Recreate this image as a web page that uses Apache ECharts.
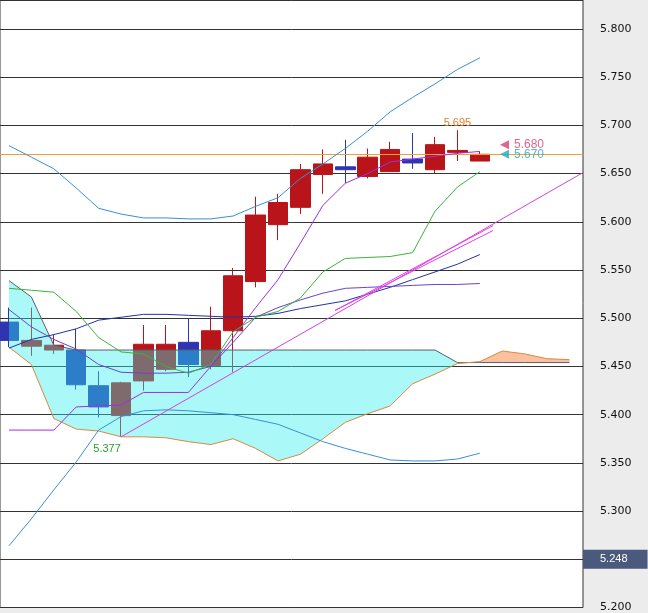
<!DOCTYPE html>
<html>
<head>
<meta charset="utf-8">
<script src="https://cdn.jsdelivr.net/npm/echarts@6/dist/echarts.min.js"></script>
<style>
  html, body { margin: 0; padding: 0; }
  #chart { width: 648px; height: 613px; }
</style>
</head>
<body>
<div id="chart"></div>
<script>
// velas (índice 0..21)
const opens  = [5.496, 5.471, 5.467, 5.467, 5.430, 5.399, 5.435, 5.447, 5.475, 5.451, 5.487, 5.538, 5.597, 5.615, 5.649, 5.657, 5.647, 5.652, 5.665, 5.654, 5.672, 5.663];
const closes = [5.477, 5.477, 5.472, 5.431, 5.408, 5.433, 5.473, 5.473, 5.452, 5.487, 5.544, 5.607, 5.620, 5.654, 5.660, 5.654, 5.667, 5.675, 5.661, 5.680, 5.674, 5.670];
const lows   = [5.470, 5.461, 5.463, 5.426, 5.397, 5.377, 5.425, 5.445, 5.439, 5.447, 5.444, 5.532, 5.581, 5.608, 5.629, 5.640, 5.645, 5.652, 5.655, 5.650, 5.663, 5.663];
const highs  = [5.511, 5.511, 5.483, 5.489, 5.445, 5.434, 5.493, 5.493, 5.500, 5.512, 5.552, 5.626, 5.629, 5.660, 5.675, 5.685, 5.676, 5.683, 5.692, 5.688, 5.695, 5.673];

// bandas de bollinger
const bbUpper  = [5.679, 5.667, 5.655, 5.635, 5.614, 5.608, 5.604, 5.604, 5.603, 5.603, 5.606, 5.616, 5.625, 5.645, 5.660, 5.676, 5.694, 5.714, 5.729, 5.743, 5.758, 5.770];
const bbMiddle = [5.469, 5.478, 5.483, 5.489, 5.498, 5.501, 5.504, 5.504, 5.503, 5.502, 5.501, 5.502, 5.505, 5.510, 5.514, 5.518, 5.525, 5.532, 5.540, 5.548, 5.556, 5.566];
const bbLower  = [5.264, 5.292, 5.322, 5.351, 5.384, 5.398, 5.404, 5.405, 5.404, 5.402, 5.400, 5.395, 5.390, 5.381, 5.372, 5.365, 5.359, 5.353, 5.352, 5.352, 5.354, 5.360];

// ichimoku
const tenkan = [5.384, 5.384, 5.384, 5.408, 5.409, 5.410, 5.423, 5.423, 5.423, 5.450, 5.480, 5.511, 5.540, 5.578, 5.617, 5.640, 5.650, 5.662, 5.665, 5.668, 5.671, 5.673];
const kijun  = [5.509, 5.491, 5.478, 5.468, 5.452, 5.444, 5.443, 5.443, 5.444, 5.450, 5.475, 5.501, 5.511, 5.519, 5.526, 5.531, 5.532, 5.533, 5.534, 5.535, 5.535, 5.536];
const greenLine = [5.531, 5.529, 5.527, 5.507, 5.480, 5.465, 5.463, 5.450, 5.443, 5.452, 5.486, 5.501, 5.507, 5.521, 5.548, 5.562, 5.563, 5.564, 5.568, 5.611, 5.636, 5.652];
const spanA = [5.539, 5.522, 5.472, 5.467, 5.467, 5.467, 5.467, 5.467, 5.467, 5.467, 5.467, 5.467, 5.467, 5.467, 5.467, 5.467, 5.467, 5.467, 5.467, 5.467, 5.454, 5.454, 5.454, 5.454, 5.454, 5.454];
const spanB = [5.470, 5.452, 5.396, 5.385, 5.383, 5.377, 5.377, 5.376, 5.372, 5.369, 5.375, 5.365, 5.352, 5.359, 5.375, 5.392, 5.401, 5.409, 5.432, 5.442, 5.453, 5.455, 5.466, 5.463, 5.458, 5.457];

// líneas de tendencia [x, y]
const trend1  = [[5, 5.377], [25.6, 5.651]];
const trend2a = [[14.54, 5.508], [21.59, 5.596]];
const trend2b = [[14.54, 5.508], [21.59, 5.591]];

const lastPrice = 5.670;
const otherPrice = 5.680;
const axisPrice = 5.248;

const pts = (arr) => arr.map((v, i) => [i, v]);

const line = (data, color, z) => ({
  type: 'line', data: data, symbol: 'none', z: z || 5,
  lineStyle: { color: color, width: 1 }, silent: true
});

// nube: polígonos entre spanA y spanB, cian si A >= B, salmón si B > A
const renderCloud = (params, api) => {
  const children = [];
  let seg = [];
  const flush = (up) => {
    if (seg.length < 2) return;
    const top = seg.map(i => api.coord([i, spanA[i]]));
    const bottom = seg.map(i => api.coord([i, spanB[i]])).reverse();
    children.push({
      type: 'polygon',
      shape: { points: top.concat(bottom) },
      style: { fill: up ? 'rgba(43,238,238,0.4)' : 'rgba(245,140,80,0.55)' }
    });
  };
  let state = spanA[0] >= spanB[0];
  spanA.forEach((a, i) => {
    const up = a >= spanB[i];
    if (up !== state) {
      seg.push(i);
      flush(state);
      seg = [i - 1 >= 0 ? i : i];
      state = up;
    } else {
      seg.push(i);
    }
  });
  flush(state);
  return { type: 'group', children: children };
};

const chart = echarts.init(document.getElementById('chart'));
chart.setOption({
  animation: false,
  backgroundColor: '#ececec',
  grid: { left: 0, right: 65, top: 0, bottom: 0, show: true, backgroundColor: '#ffffff', borderColor: '#333', borderWidth: 1 },
  xAxis: { type: 'value', min: -0.4, max: 25.6, show: false },
  yAxis: {
    type: 'value', position: 'right', min: 5.2, max: 5.83, interval: 0.05,
    axisLine: { show: false }, axisTick: { show: false },
    axisLabel: { showMaxLabel: false, margin: 17, color: '#111', fontSize: 11, fontFamily: 'DejaVu Sans', formatter: v => v.toFixed(3) },
    splitLine: { lineStyle: { color: '#333', width: 1 } }
  },
  series: [
    {
      type: 'candlestick', z: 2, barWidth: 20,
      data: opens.map((o, i) => [i, o, closes[i], lows[i], highs[i]]),
      itemStyle: { color: '#b8141a', color0: '#2f35b0', borderColor: '#b8141a', borderColor0: '#2f35b0', borderWidth: 1 },
      markPoint: {
        symbol: 'circle', symbolSize: 0,
        data: [
          { coord: [20, 5.695], label: { show: true, position: 'top', formatter: '5.695', color: '#e08030', fontSize: 11, distance: 2 } },
          { coord: [5, 5.377], label: { show: true, position: 'bottom', formatter: '5.377', color: '#2aa02a', fontSize: 11, offset: [-14, 2] } }
        ]
      }
    },
    { type: 'custom', renderItem: renderCloud, data: [0], z: 3, silent: true, clip: true },
    line(pts(spanA), '#5a5f6a', 4),
    line(pts(spanB), '#d88a40', 4),
    line(pts(bbUpper), '#3a8fd8'),
    line(pts(bbMiddle), '#2232a8'),
    line(pts(bbLower), '#3a8fd8'),
    line(pts(kijun), '#6a44c8'),
    line(pts(tenkan), '#a42ee0'),
    line(pts(greenLine), '#3cb43c'),
    line(trend1, '#d640e0', 6),
    line(trend2a, '#e040e8', 6),
    line(trend2b, '#e040e8', 6),
    {
      type: 'line', data: [[0, lastPrice]], symbol: 'none', silent: true, lineStyle: { width: 0 },
      markLine: {
        symbol: 'none', silent: true,
        data: [
          { yAxis: lastPrice, lineStyle: { color: '#f0a030', width: 1, type: 'solid' }, label: { show: false } },
          { yAxis: axisPrice, lineStyle: { color: 'transparent', width: 0 },
            label: { show: true, position: 'end', distance: 0, formatter: axisPrice.toFixed(3), color: '#fff', backgroundColor: '#4a5a7c', padding: [4, 20, 4, 17], fontSize: 11 } }
        ]
      }
    },
    {
      type: 'scatter', symbol: 'triangle', symbolSize: 9, symbolRotate: 90, z: 8, silent: true,
      data: [
        { value: [22.1, otherPrice], itemStyle: { color: '#d84070' }, label: { show: true, position: 'right', formatter: otherPrice.toFixed(3), color: '#d84070', fontSize: 12 } },
        { value: [22.1, lastPrice], itemStyle: { color: '#20a8c8' }, label: { show: true, position: 'right', formatter: lastPrice.toFixed(3), color: '#20a8c8', fontSize: 12 } }
      ]
    }
  ]
});
</script>
</body>
</html>
